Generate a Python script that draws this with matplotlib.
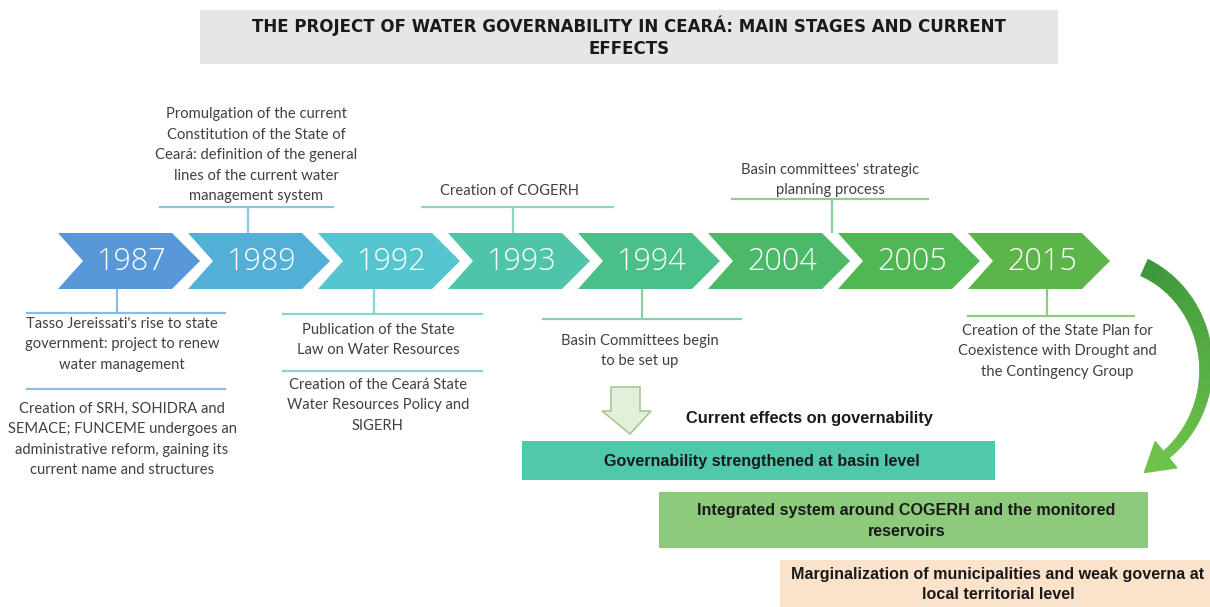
import numpy as np
import matplotlib.pyplot as plt
from matplotlib.patches import Polygon, Rectangle
from matplotlib.colors import to_rgb

# timeline data
years = ['1987', '1989', '1992', '1993', '1994', '2004', '2005', '2015']
chevron_colors = ['#5898d8', '#52afd6', '#55c6cf', '#4fc4a9', '#4bbf88', '#4cb968', '#50b752', '#5cb549']
line_colors = ['#8dbbe6', '#86c8e6', '#86d6d6', '#8ad6bf', '#86d2a8', '#8ccf95', '#8ccd85', '#8dcb7f']

title = 'THE PROJECT OF WATER GOVERNABILITY IN CEARÁ: MAIN STAGES AND CURRENT\nEFFECTS'

# events: index of the year, above (1) / below (-1), text blocks
event_year = [0, 1, 2, 3, 4, 5, 7]
event_side = [-1, 1, -1, 1, -1, 1, -1]
event_texts = [
    ["Tasso Jereissati's rise to state\ngovernment: project to renew\nwater management",
     "Creation of SRH, SOHIDRA and\nSEMACE; FUNCEME undergoes an\nadministrative reform, gaining its\ncurrent name and structures"],
    ["Promulgation of the current\nConstitution of the State of\nCeará: definition of the general\nlines of the current water\nmanagement system"],
    ["Publication of the State\nLaw on Water Resources",
     "Creation of the Ceará State\nWater Resources Policy and\nSIGERH"],
    ["Creation of COGERH"],
    ["Basin Committees begin\nto be set up"],
    ["Basin committees' strategic\nplanning process"],
    ["Creation of the State Plan for\nCoexistence with Drought and\nthe Contingency Group"],
]

effects_label = 'Current effects on governability'
effects = ['Governability strengthened at basin level',
           'Integrated system around COGERH and the monitored\nreservoirs',
           'Marginalization of municipalities and weak governa at\nlocal territorial level']
effect_colors = ['#4fc9a9', '#8dca7b', '#fbe2cb']

# layout (pixels)
stem_x = [117, 248, 374, 513, 642, 832, 1047]
hline_span = [(27, 225), (160, 333), (283, 482), (422, 613), (543, 741), (732, 928), (968, 1134)]
hline_y = [313, 207, 314, 207, 319, 199, 316]
text_x = [122, 256, 378, 510, 640, 830, 1057]
second_line_y = [389, None, 371, None, None, None, None]
text_y = [[317, 402], [203], [323, 378], [198], [334], [197], [324]]

fig = plt.figure(figsize=(12.1, 6.07), dpi=100)
ax = fig.add_axes([0, 0, 1, 1])
ax.set_xlim(0, 1210)
ax.set_ylim(607, 0)
ax.axis('off')

ann_font = dict(family=['Lato', 'DejaVu Sans'], fontsize=10.6, color='#404040', linespacing=1.58)
bold_font = dict(family=['Liberation Sans', 'DejaVu Sans'], fontweight='bold', color='#1a1a1a')

# title box
ax.add_patch(Rectangle((200, 10), 858, 54, facecolor='#e6e6e6', edgecolor='none'))
ax.text(629, 37, title, ha='center', va='center', fontsize=12, linespacing=1.3,
        family=['Liberation Sans Narrow', 'DejaVu Sans'], fontweight='bold', color='#1a1a1a')

# chevrons
top, bot = 233, 289
mid = (top + bot) / 2
w, depth = 142, 28
for i, (yr, c) in enumerate(zip(years, chevron_colors)):
    x0 = 58 + i * 130
    pts = [(x0, top), (x0 + w - depth, top), (x0 + w, mid), (x0 + w - depth, bot),
           (x0, bot), (x0 + depth - 3, mid)]
    ax.add_patch(Polygon(pts, closed=True, facecolor=c, edgecolor='none'))
    ax.text(x0 + w / 2 + 3, mid + 1, yr, ha='center', va='center', color='white',
            fontsize=22, family=['Open Sans', 'DejaVu Sans'], fontweight='light')

# event annotations
for k in range(len(event_year)):
    c = line_colors[event_year[k]]
    side = event_side[k]
    y_edge = top if side == 1 else bot
    ax.plot([stem_x[k], stem_x[k]], [y_edge, hline_y[k]], color=c, lw=1.6, solid_capstyle='butt')
    ax.plot(list(hline_span[k]), [hline_y[k], hline_y[k]], color=c, lw=1.6)
    if second_line_y[k] is not None:
        ax.plot(list(hline_span[k]), [second_line_y[k]] * 2, color=c, lw=1.6)
    for txt, ty in zip(event_texts[k], text_y[k]):
        ax.text(text_x[k], ty, txt, ha='center', va='bottom' if side == 1 else 'top', **ann_font)

# hollow down arrow
arr = [(611, 387), (640, 387), (640, 411), (651, 411), (630, 434), (602, 411), (611, 411)]
ax.add_patch(Polygon(arr, closed=True, facecolor='#e2efd9', edgecolor='#a8c898', lw=1.2))
ax.text(809, 419, effects_label, ha='center', va='center', fontsize=11.8, **bold_font)

# effect boxes
boxes = [(522, 441, 473, 39), (659, 492, 489, 56), (780, 560, 430, 47)]
for (bx, by, bw, bh), txt, c in zip(boxes, effects, effect_colors):
    ax.add_patch(Rectangle((bx, by), bw, bh, facecolor=c, edgecolor='none'))
    ax.text(bx + bw / 2 + 3, by + bh / 2 + 1, txt, ha='center', va='center',
            fontsize=11.6, linespacing=1.45, **bold_font)

# curved arrow on the right
cx, cy, a, b = 1102, 368, 104, 110
t = np.radians(np.linspace(-66, 52, 60))
thick = np.linspace(18, 9, len(t))
c0, c1 = np.array(to_rgb('#3c963a')), np.array(to_rgb('#6cc24a'))
for j in range(len(t) - 1):
    ta, tb = t[j], t[j + 1]
    pa_o = (cx + (a + thick[j] / 2) * np.cos(ta), cy + (b + thick[j] / 2) * np.sin(ta))
    pb_o = (cx + (a + thick[j + 1] / 2) * np.cos(tb), cy + (b + thick[j + 1] / 2) * np.sin(tb))
    pb_i = (cx + (a - thick[j + 1] / 2) * np.cos(tb), cy + (b - thick[j + 1] / 2) * np.sin(tb))
    pa_i = (cx + (a - thick[j] / 2) * np.cos(ta), cy + (b - thick[j] / 2) * np.sin(ta))
    col = c0 + (c1 - c0) * j / (len(t) - 2)
    ax.add_patch(Polygon([pa_o, pb_o, pb_i, pa_i], closed=True, facecolor=col, edgecolor=col, lw=0.5))
# arrow head
te = t[-1]
px, py = cx + a * np.cos(te), cy + b * np.sin(te)
tan = np.array([-a * np.sin(te), b * np.cos(te)])
tan = tan / np.linalg.norm(tan)
nrm = np.array([tan[1], -tan[0]])
head = [(px + nrm[0] * 17, py + nrm[1] * 17), (px - nrm[0] * 17, py - nrm[1] * 17),
        (px + tan[0] * 28, py + tan[1] * 28)]
ax.add_patch(Polygon(head, closed=True, facecolor=c1, edgecolor=c1))

fig.savefig('out.png', dpi=100)
